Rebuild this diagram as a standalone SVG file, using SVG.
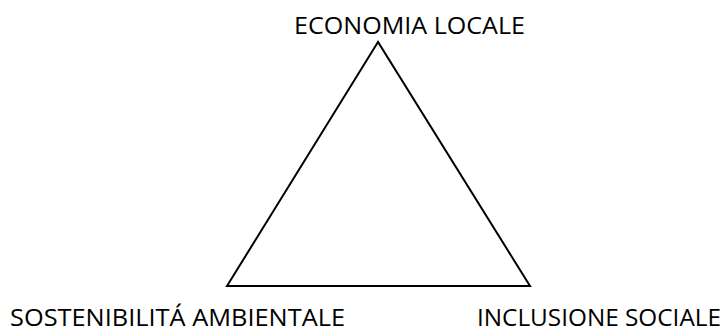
<svg xmlns="http://www.w3.org/2000/svg" width="727" height="331" viewBox="0 0 727 331">
<style>
.lbl{font-family:"Open Sans","Noto Sans","Liberation Sans",sans-serif;font-size:23px;fill:#000}
.tri{fill:none;stroke:#000;stroke-width:2;stroke-linejoin:miter}
</style>
<rect width="727" height="331" fill="#fff"/>
<g id="triangle"><polygon class="tri" points="378,42 227,286 530,286"/></g>
<g id="connectors"></g>
<g id="economia"><text class="lbl" x="294" y="34" textLength="231" lengthAdjust="spacingAndGlyphs">ECONOMIA LOCALE</text></g>
<g id="sostenibilita"><text class="lbl" x="10" y="326" textLength="335" lengthAdjust="spacingAndGlyphs">SOSTENIBILITÁ AMBIENTALE</text></g>
<g id="inclusione"><text class="lbl" x="477" y="326" textLength="244" lengthAdjust="spacingAndGlyphs">INCLUSIONE SOCIALE</text></g>
</svg>
